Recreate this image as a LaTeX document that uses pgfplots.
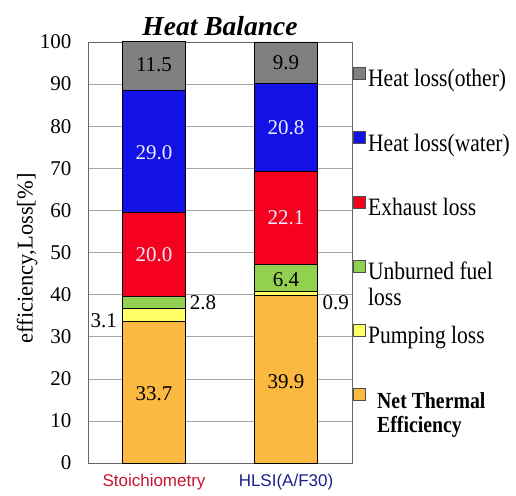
\documentclass[border=0pt]{standalone}
\usepackage{pgfplots}
\pgfplotsset{compat=1.18}
\usepackage{fontspec}
\setmainfont{Liberation Serif}
\newfontfamily\arialf{Liberation Sans}
\newfontfamily\legfont{Liberation Serif}[FakeStretch=0.86]
\definecolor{cgray}{RGB}{128,128,128}
\definecolor{cblue}{RGB}{18,18,230}
\definecolor{cred}{RGB}{245,0,30}
\definecolor{cgreen}{RGB}{146,208,80}
\definecolor{cyellow}{RGB}{255,255,102}
\definecolor{corange}{RGB}{251,185,65}
\definecolor{ticred}{RGB}{200,20,50}
\definecolor{ticblue}{RGB}{30,30,140}
\begin{document}
\begin{tikzpicture}
\begin{axis}[name=ax,
  scale only axis, width=264pt, height=421pt,
  ybar stacked, bar width=63pt,
  xmin=-0.5, xmax=1.5, ymin=0, ymax=100,
  xtick={0,1},
  xticklabels={\textcolor{ticred}{Stoichiometry},\textcolor{ticblue}{HLSI(A/F30)}},
  xticklabel style={font=\arialf\fontsize{17}{20}\selectfont, yshift=-8pt},
  ytick={0,10,...,100},
  /pgf/number format/assume math mode=true,
  yticklabel style={font=\fontsize{21}{24}\selectfont, xshift=-13pt},
  major tick length=0pt,
  ymajorgrids, grid style={gray!70, line width=0.6pt},
  axis line style={black!60, line width=0.8pt},
  ylabel={efficiency,Loss[\%]},
  ylabel style={font=\fontsize{22.5}{26}\selectfont, at={(axis description cs:-0.178,0.486)}, anchor=south},
  title={\textbf{\textit{Heat Balance}}},
  title style={font=\fontsize{27.5}{30}\selectfont, yshift=-3pt},
  legend cell align=left,
  reverse legend,
  legend image code/.code={\draw[#1, draw=black!70, line width=0.5pt] (0pt,1.5pt) rectangle (12pt,13.5pt);},
  legend style={draw=none, fill=none, at={(1,1)}, anchor=north west, xshift=1pt, yshift=-25pt,
     inner sep=0pt, row sep=39.5pt, column sep=2.5pt,
     font=\legfont\fontsize{25}{25}\selectfont,
     nodes={inner sep=0pt, text height=17pt, text depth=5pt}},
  every axis plot/.append style={draw=black, line width=0.5pt},
]
\addplot[fill=corange] coordinates {(0,33.7) (1,39.9)};
\addplot[fill=cyellow] coordinates {(0,3.1) (1,0.9)};
\addplot[fill=cgreen] coordinates {(0,2.8) (1,6.4)};
\addplot[fill=cred] coordinates {(0,20.0) (1,22.1)};
\addplot[fill=cblue] coordinates {(0,29.0) (1,20.8)};
\addplot[fill=cgray] coordinates {(0,11.5) (1,9.9)};
\legend{\hspace*{9pt}\smash{\fontsize{23}{24}\selectfont\begin{tabular}[t]{@{}l@{}}\textbf{Net Thermal}\\\textbf{Efficiency}\end{tabular}},
  Pumping loss,
  \smash{\begin{tabular}[t]{@{}l@{}}Unburned fuel\\[1pt]loss\end{tabular}},
  Exhaust loss, Heat loss(water), Heat loss(other)}
\end{axis}
\begin{axis}[at={(ax.south west)}, anchor=south west,
  scale only axis, width=264pt, height=421pt,
  xmin=-0.5, xmax=1.5, ymin=0, ymax=100, hide axis, clip=false,
  every node near coord/.append style={font=\fontsize{21}{24}\selectfont, anchor=center},
]
\addplot[only marks, mark=*, mark size=0pt, draw=none, fill=none,
  nodes near coords, point meta=explicit symbolic,
  every node near coord/.append style={text=black}]
  table[meta=l] {
x y l
0 16.4 33.7
0 94.5 11.5
1 19.3 39.9
1 43.6 6.4
1 95.0 9.9
};
\addplot[only marks, mark=*, mark size=0pt, draw=none, fill=none,
  nodes near coords, point meta=explicit symbolic,
  every node near coord/.append style={text=white!92!blue}]
  table[meta=l] {
x y l
0 49.6 20.0
0 73.7 29.0
1 58.2 22.1
1 79.6 20.8
};
\addplot[only marks, mark=*, mark size=0pt, draw=none, fill=none,
  nodes near coords, point meta=explicit symbolic,
  every node near coord/.append style={text=black, anchor=east}]
  table[meta=l] {
x y l
-0.255 33.7 3.1
};
\addplot[only marks, mark=*, mark size=0pt, draw=none, fill=none,
  nodes near coords, point meta=explicit symbolic,
  every node near coord/.append style={text=black, anchor=west}]
  table[meta=l] {
x y l
0.245 38.0 2.8
1.25 38.0 0.9
};
\end{axis}
\path[use as bounding box] ([shift={(-88pt,-32pt)}]ax.south west) rectangle ++(516pt,495pt);
\end{tikzpicture}
\end{document}
